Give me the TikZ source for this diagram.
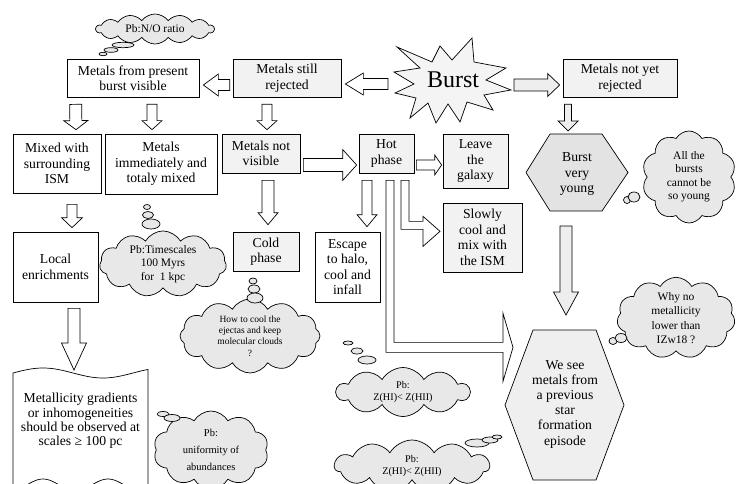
\documentclass[tikz,border=0pt]{standalone}
\usepackage{fontspec}
\setmainfont{Liberation Serif}
\usetikzlibrary{shapes.symbols,calc}
\definecolor{boxgray}{HTML}{F2F2F2}
\definecolor{cloudgray}{HTML}{E8E8E8}
\definecolor{hexgray}{HTML}{E3E3E3}
\definecolor{hexlight}{HTML}{EFEFEF}
\definecolor{stargray}{HTML}{F4F4F4}
\definecolor{arrowgray}{HTML}{EEEEEE}
\newcommand\fmain{\fontsize{13.7}{15.5}\selectfont}
\newcommand\fcloud{\fontsize{11.5}{13.5}\selectfont}
% [fill]{from}{to}{shaft half width}{head half width}{head length}
\newcommand\blockarrow[6][white]{%
  \coordinate (bas) at (#2);
  \coordinate (bae) at (#3);
  \coordinate (bab) at ($(bae)!#6pt!(bas)$);
  \filldraw[lw, fill=#1] ($(bas)!#4pt!90:(bae)$) -- ($(bab)!#4pt!90:(bae)$)
    -- ($(bab)!#5pt!90:(bae)$) -- (bae) -- ($(bab)!#5pt!-90:(bae)$)
    -- ($(bab)!#4pt!-90:(bae)$) -- ($(bas)!#4pt!-90:(bae)$) -- cycle;
}
\begin{document}
\begin{tikzpicture}[x=1pt,y=-1pt,
  lw/.style={line width=0.7pt, draw=black},
  txt/.style={font=\fmain, align=center},
  box/.style={txt, lw, fill=white, inner sep=0pt},
  gbox/.style={box, fill=boxgray},
  thought/.style={cloud, lw, fill=cloudgray, cloud puffs=#1, cloud puff arc=120,
    cloud ignores aspect, inner sep=0pt, align=center, font=\fcloud},
  bubble/.style={lw, fill=cloudgray}]
\useasboundingbox (0,0) rectangle (736,484);
\clip (0,0) rectangle (736,484);

% ---------- boxes ----------
\node[box,  minimum width=132pt, minimum height=38pt] (mp) at (133,78) {Metals from present\\burst visible};
\node[gbox, minimum width=108pt, minimum height=38pt] (ms) at (287,78) {Metals still\\rejected};
\node[gbox, minimum width=114pt, minimum height=38pt] (mn) at (620,78) {Metals not yet\\rejected};
\node[box,  minimum width=88pt,  minimum height=59pt] (mx) at (57,163.5) {Mixed with\\surrounding\\ISM};
\node[box,  minimum width=112pt, minimum height=60pt] (mi) at (161,164) {Metals\\immediately and\\totaly mixed};
\node[gbox, minimum width=78pt,  minimum height=39pt] (nv) at (261,153.5) {Metals not\\visible};
\node[gbox, minimum width=55pt,  minimum height=39pt] (hp) at (386.5,153.5) {Hot\\phase};
\node[gbox, minimum width=65pt,  minimum height=54pt] (lg) at (475.5,161) {Leave\\the\\galaxy};
\node[gbox, minimum width=79pt,  minimum height=69pt] (sc) at (482.5,237.5) {Slowly\\cool and\\mix with\\the ISM};
\node[box,  minimum width=85pt,  minimum height=70pt] (le) at (55.5,267) {Local\\enrichments};
\node[gbox, minimum width=66pt,  minimum height=39pt] (cp) at (266,251.5) {Cold\\phase};
\node[box,  minimum width=65pt,  minimum height=70pt] (es) at (347.5,267) {Escape\\to halo,\\cool and\\infall};

% ---------- burst star ----------
\filldraw[lw, fill=stargray] (397,47) -- (432,62) -- (440,46) -- (452,60) -- (472,38) -- (474,62)
  -- (506,68) -- (486,80) -- (511,90) -- (484,95) -- (493,110) -- (467,102) -- (460,122)
  -- (448,104) -- (436,123) -- (428,103) -- (410,118) -- (416,98) -- (395,93) -- (414,84)
  -- (394,72) -- (420,68) -- cycle;
\node[font=\fontsize{24}{24}\selectfont] (burst) at (453,80) {Burst};

% ---------- hexagons ----------
\filldraw[lw, fill=hexgray] (526,172.5) -- (550,134) -- (602,134) -- (628,172.5) -- (602,211) -- (550,211) -- cycle;
\coordinate (bvytop) at (577,134);
\coordinate (bvybot) at (577,211);
\node[txt] (bvy) at (577,174) {Burst\\very\\young};
\filldraw[lw, fill=hexlight] (505,405) -- (533,330) -- (596,330) -- (624,405) -- (596,480) -- (533,480) -- cycle;
\coordinate (wstop) at (564.5,330);
\node[txt, font={\fontsize{13.7}{15.2}\selectfont}] (wsm) at (565,404) {We see\\metals from\\a previous\\star\\formation\\episode};

% ---------- document shape ----------
\filldraw[lw, fill=white] plot[domain=13:148, samples=50] (\x,{373-5*sin(3*(\x-13))})
  -- plot[domain=148:13, samples=50] (\x,{485-6*cos(5.5385*(\x-43))}) -- cycle;
\coordinate (doctop) at (80.5,372);
\node[txt, font={\fontsize{13.7}{14.3}\selectfont}] (doc) at (80.5,421) {Metallicity gradients\\or inhomogeneities\\should be observed at\\scales ≥ 100 pc};

% ---------- straight block arrows ----------
\blockarrow{$(ms.west)+(-3,7)$}{$(mp.east)+(4,7)$}{5.5}{11}{15}
\blockarrow{$(burst)+(-65,4)$}{$(ms.east)+(4,6)$}{5.5}{11}{18}
\blockarrow[arrowgray]{$(burst)+(61,5)$}{$(mn.west)+(-3,7)$}{6}{11.5}{12}
\blockarrow{$(mp.south west)+(9,7)$}{$(mx.north)+(19,-4)$}{6}{12}{9}
\blockarrow{$(mp.south)+(19,7)$}{$(mi.north)+(-9,-4)$}{5}{10}{9}
\blockarrow{$(ms.south)+(-20,7)$}{$(nv.north)+(6,-4)$}{5}{10}{9}
\blockarrow[arrowgray]{$(mn.south)+(-52,7)$}{$(bvytop)+(-9,-3)$}{3.5}{10}{10}
\blockarrow{$(nv.east)+(3,11.5)$}{$(hp.west)+(-2,11.5)$}{6.5}{15.5}{14}
\blockarrow{$(hp.east)+(2,11.5)$}{$(lg.west)+(-1,4)$}{5}{10}{7}
\blockarrow{$(mx.south)+(15,11)$}{$(le.north)+(16.5,-4)$}{5}{10.5}{10}
\blockarrow{$(nv.south)+(7,7)$}{$(cp.north)+(2,-7)$}{6}{10}{12}
\blockarrow{$(hp.south)+(-19.5,7)$}{$(es.north)+(19.5,-5)$}{5}{10}{12}
\blockarrow[arrowgray]{$(bvybot)+(-11,15)$}{$(wstop)+(1.5,-15)$}{6}{12.5}{23}
\blockarrow{$(le.south)+(18.5,6)$}{$(doctop)+(-6.5,-2)$}{6}{12.5}{27}

% ---------- bent block arrows ----------
\filldraw[lw, fill=white] ($(hp.south)+(14.5,7)$) -- ++(0,49) -- ++(22,0) -- ++(0,17)
  -- ++(17,-15) -- ++(-17,-15) -- ++(0,5) -- ++(-14,0) -- ++(0,-41) -- cycle;
\filldraw[lw, fill=white] ($(hp.south)+(-0.5,7)$) -- ++(0,172) -- ++(117,0) -- ++(0,29)
  -- ++(10,-34) -- ++(-10,-34) -- ++(0,29) -- ++(-109,0) -- ++(0,-162) -- cycle;

% ---------- thought clouds ----------
\node[thought=14, cloud puff arc=105, minimum width=118pt, minimum height=30pt] (c1) at (155,29) {Pb:N/O ratio};
\draw[bubble] (123,45) ellipse (11pt and 2.7pt);
\draw[bubble] (111,50) ellipse (7pt and 2.3pt);
\draw[bubble] (103,54) ellipse (4pt and 1.7pt);

\node[thought=11, minimum width=127pt, minimum height=60pt] (c2) at (163,264) {Pb:Timescales\\100 Myrs\\for\enspace 1 kpc};
\draw[bubble] (147,207) ellipse (3.5pt and 2.5pt);
\draw[bubble] (148,215) ellipse (5.5pt and 3.5pt);
\draw[bubble] (151,224) ellipse (9pt and 5pt);

\node[thought=12, minimum width=140pt, minimum height=74pt, font={\fontsize{9.5}{11.3}\selectfont}] (c3) at (250,336) {How to cool the\\ejectas and keep\\molecular clouds\\?};
\draw[bubble] (253,281) ellipse (4pt and 3pt);
\draw[bubble] (254,289) ellipse (6pt and 4pt);
\draw[bubble] (255,298) ellipse (8pt and 5pt);

\node[thought=11, minimum width=118pt, minimum height=68pt, font={\fontsize{11.5}{14.5}\selectfont}] (c4) at (676,318) {Why no\\metallicity\\lower than\\IZw18 ?};
\draw[bubble] (613,341) ellipse (4pt and 3.5pt);
\draw[bubble] (621,338) ellipse (6pt and 4.5pt);

\node[thought=10, minimum width=94pt, minimum height=92pt] (c5) at (689,177) {All the\\bursts\\cannot be\\so young};
\draw[bubble] (627,200) ellipse (3.5pt and 3.5pt);
\draw[bubble] (634,197) ellipse (6pt and 5pt);

\node[thought=10, minimum width=133pt, minimum height=49pt, font={\fontsize{10.2}{12}\selectfont}] (c6) at (403,392) {Pb:\\Z(HI)< Z(HII)};
\draw[bubble] (348,343) ellipse (5pt and 2pt);
\draw[bubble] (357,351) ellipse (6pt and 3pt);
\draw[bubble] (367,360) ellipse (9pt and 4pt);

\node[thought=11, minimum width=155pt, minimum height=52pt, font={\fontsize{10.2}{12}\selectfont}] (c7) at (412,466) {Pb:\\Z(HI)< Z(HII)};
\draw[bubble] (477,443) ellipse (12pt and 4pt);
\draw[bubble] (490,440) ellipse (8pt and 3pt);
\draw[bubble] (497,437) ellipse (5pt and 2pt);

\node[thought=10, minimum width=115pt, minimum height=78pt, font={\fontsize{10.5}{17}\selectfont}] (c8) at (211,450) {Pb:\\uniformity of\\abundances};
\draw[bubble] (163,414) ellipse (6pt and 2.5pt);
\draw[bubble] (172,418) ellipse (8pt and 3.5pt);
\end{tikzpicture}
\end{document}
